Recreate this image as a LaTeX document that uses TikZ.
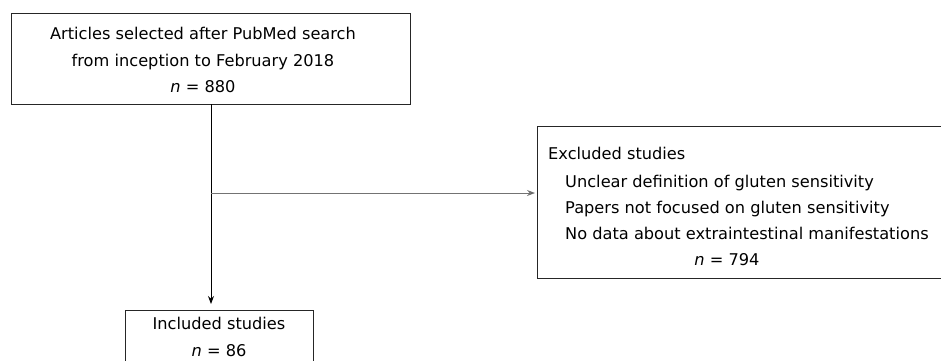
\documentclass[tikz,border=0pt]{standalone}
\usepackage{fontspec}
\setmainfont{DejaVu Sans}
\usetikzlibrary{arrows.meta}
\begin{document}
\begin{tikzpicture}[x=1pt,y=-1pt,
  boxframe/.style={draw=black!85,line width=1pt,inner sep=0pt,outer sep=0pt},
  txt/.style={inner sep=0pt,font=\fontsize{16.2}{26.5}\selectfont},
  conn/.style={line width=1pt,-{Stealth[length=8pt,width=6pt]}}]
\useasboundingbox (0,0) rectangle (941,360);
% boxes
\node[boxframe,minimum width=399pt,minimum height=91pt] (top) at (210.5,58.5) {};
\node[boxframe,minimum width=408pt,minimum height=152pt] (exc) at (741,202) {};
\node[boxframe,minimum width=188pt,minimum height=60pt] (inc) at (219,340) {};
% texts
\node[txt,align=center] (toptxt) at (203,60) {Articles selected after PubMed search\\from inception to February 2018\\\textit{n} = 880};
\node[txt,anchor=base west] (exc1) at (548,159) {Excluded studies};
\node[txt,anchor=base west] (exc2) at (565,187) {Unclear definition of gluten sensitivity};
\node[txt,anchor=base west] (exc3) at (565,213) {Papers not focused on gluten sensitivity};
\node[txt,anchor=base west] (exc4) at (565,239) {No data about extraintestinal manifestations};
\node[txt,anchor=base] (exc5) at (727,265) {\textit{n} = 794};
\node[txt,align=center] (inctxt) at (219,337) {Included studies\\\textit{n} = 86};
% connectors
\coordinate (split) at (211,193);
\coordinate (down) at (211,304);
\coordinate (right) at (535,193);
\draw[conn,draw=black] (top.south -| split) -- (down);
\draw[conn,draw=black!55,-{Stealth[length=8pt,width=6pt,fill=black]}] (split) -- (right);
\end{tikzpicture}
\end{document}
